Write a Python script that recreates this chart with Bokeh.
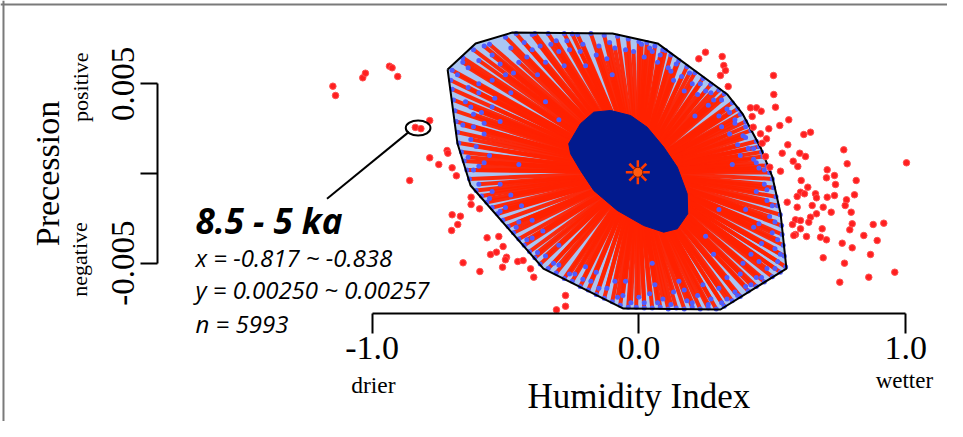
from bokeh.plotting import figure
from bokeh.models import (ColumnDataSource, LinearAxis, FixedTicker, Label,
                          Range1d, PrintfTickFormatter, Span)
from bokeh.embed import file_html
from bokeh.resources import INLINE

# ---------------- data ----------------
x_ticks = [-1.0, 0.0, 1.0]
y_ticks = [-0.005, 0.005]
y_minor_ticks = [0.0]

center_x = [-0.004]
center_y = [0.00007]

hull_x = [-0.717, -0.612, -0.474, -0.099, 0.070, 0.332, 0.388, 0.456, 0.501,
          0.531, 0.553, 0.306, -0.058, -0.358, -0.631, -0.680]
hull_y = [0.0058, 0.00725, 0.00786, 0.0078, 0.00725, 0.0044, 0.00334, 0.00145,
          -0.00022, -0.00223, -0.0053, -0.00758, -0.00753, -0.0053, -0.00067, 0.00167]

bag_x = [-0.263, -0.219, -0.169, -0.106, -0.031, 0.031, 0.093, 0.144, 0.181,
         0.183, 0.144, 0.093, 0.018, -0.081, -0.169, -0.219, -0.256]
bag_y = [0.00166, 0.00277, 0.00342, 0.00351, 0.00323, 0.00258, 0.00147, 0.00035,
         -0.00113, -0.00225, -0.00308, -0.00327, -0.0029, -0.00206, -0.00095,
         0.00017, 0.0011]

loop_x = [
    -0.70, -0.66, -0.62, -0.58, -0.68, -0.64, -0.55, -0.60, -0.66, -0.52, -0.47, -0.56,
    -0.50, -0.46, -0.43, -0.40, -0.37, -0.34, -0.31, -0.28, -0.26, -0.23, -0.21, -0.18,
    -0.16, -0.13, -0.11, -0.08, -0.42, -0.35, -0.30, -0.20, -0.12, -0.48, -0.39, -0.25,
    -0.04, 0.00, 0.03, 0.06, 0.09, 0.12, 0.15, 0.18, 0.21, 0.24, 0.27, 0.30, 0.32,
    0.02, 0.07, 0.11, 0.16, 0.20, 0.25, 0.28, -0.02, 0.05, 0.13, 0.22, 0.10,
    0.35, 0.37, 0.38, 0.40, 0.42, 0.44, 0.45, 0.465, 0.48, 0.49, 0.33, 0.36, 0.39, 0.41,
    0.43, 0.45, 0.30, 0.34, 0.38, 0.40, 0.46,
    0.50, 0.505, 0.514, 0.52, 0.53, 0.535, 0.537, 0.541, 0.545, 0.55, 0.47, 0.48, 0.49,
    0.50, 0.51, 0.52, 0.44, 0.45, 0.46, 0.40, 0.42,
    0.53, 0.50, 0.47, 0.44, 0.41, 0.38, 0.35, 0.32, 0.48, 0.44, 0.40, 0.36, 0.33, 0.45,
    0.38, 0.30,
    0.29, 0.26, 0.23, 0.20, 0.17, 0.14, 0.11, 0.08, 0.05, 0.02, -0.01, -0.04, 0.27, 0.22,
    0.18, 0.13, 0.09, 0.04, 0.00, 0.24, 0.15, 0.06,
    -0.07, -0.10, -0.13, -0.16, -0.19, -0.22, -0.25, -0.28, -0.31, -0.34, -0.06, -0.12,
    -0.18, -0.24, -0.30, -0.09, -0.20,
    -0.37, -0.39, -0.41, -0.43, -0.45, -0.47, -0.49, -0.51, -0.53, -0.55, -0.57, -0.59,
    -0.61, -0.35, -0.40, -0.45, -0.50, -0.55, -0.36, -0.44, -0.52,
    -0.635, -0.645, -0.655, -0.665, -0.675, -0.68, -0.685, -0.69, -0.695, -0.70, -0.705,
    -0.60, -0.61, -0.62, -0.63, -0.64, -0.56, -0.58, -0.59, -0.60, -0.52, -0.54,
    -0.35, -0.30, 0.25, 0.30, -0.45, 0.35, 0.05, -0.10,
    -0.60, -0.55, -0.50, -0.45, -0.40, -0.33, -0.27, -0.22, -0.15, -0.09, -0.05, -0.65,
    -0.62, -0.66, -0.58, -0.63, -0.55, -0.48, -0.38, -0.28,
    0.01, 0.04, 0.08, 0.14, 0.19, 0.23, 0.27, 0.31, 0.34, 0.36, 0.40, 0.43, 0.44, 0.47,
    0.26, 0.31, 0.17, 0.37, 0.12, 0.21,
    0.48, 0.50, 0.51, 0.52, 0.53, 0.51, 0.46, 0.42, 0.37, 0.31, 0.26, 0.20, 0.12, 0.07,
    0.02, 0.43, 0.39, 0.33, 0.17, 0.28,
    -0.03, -0.08, -0.15, -0.21, -0.26, -0.32, -0.38, -0.42, -0.46, -0.52, -0.56, -0.60,
    -0.62, -0.64, -0.58, -0.48, -0.40, -0.30, -0.16, -0.05,
]
loop_y = [
    0.00575, 0.0062, 0.0069, 0.0071, 0.0055, 0.0059, 0.0066, 0.0063, 0.00645, 0.0061, 0.0056, 0.0072,
    0.0076, 0.0078, 0.0073, 0.00775, 0.0071, 0.0078, 0.0074, 0.0078, 0.0069, 0.00775, 0.0072, 0.0078,
    0.0066, 0.0077, 0.0073, 0.00765, 0.0065, 0.0062, 0.0068, 0.0060, 0.0064, 0.0070, 0.0078, 0.00778,
    0.0075, 0.00735, 0.0073, 0.0071, 0.0069, 0.0066, 0.0063, 0.00595, 0.00562, 0.0053, 0.00498, 0.00465, 0.00445,
    0.0065, 0.0062, 0.0059, 0.0054, 0.0050, 0.0046, 0.0041, 0.0068, 0.0068, 0.0052, 0.0044, 0.00685,
    0.00395, 0.0036, 0.0033, 0.0029, 0.0024, 0.0018, 0.0015, 0.00095, 0.00045, 0.00005, 0.0036, 0.0028, 0.0021, 0.0014,
    0.0008, 0.0003, 0.0032, 0.0022, 0.0010, 0.0026, 0.0012,
    -0.0003, -0.0008, -0.0013, -0.0018, -0.0023, -0.0029, -0.0034, -0.0040, -0.0046, -0.0052, -0.0006, -0.0015, -0.0024,
    -0.0033, -0.0042, -0.0049, -0.0010, -0.0028, -0.0039, -0.0020, -0.0045,
    -0.0055, -0.00575, -0.00605, -0.0063, -0.00655, -0.00685, -0.0071, -0.0074, -0.0053, -0.0058, -0.0063, -0.0066, -0.0070, -0.0049,
    -0.0056, -0.0064,
    -0.00755, -0.0075, -0.00755, -0.00745, -0.00755, -0.0075, -0.00755, -0.00745, -0.0075, -0.0075, -0.00745, -0.00745, -0.0070, -0.0068,
    -0.0071, -0.0066, -0.0070, -0.0067, -0.0069, -0.0062, -0.0060, -0.0062,
    -0.00735, -0.00715, -0.00695, -0.00675, -0.0065, -0.0063, -0.0060, -0.00585, -0.00555, -0.0053, -0.0068, -0.0064,
    -0.0060, -0.0056, -0.0051, -0.0060, -0.0052,
    -0.00505, -0.0047, -0.00435, -0.0040, -0.00365, -0.0033, -0.00295, -0.0026, -0.00225, -0.0019, -0.0016, -0.00125,
    -0.00095, -0.0046, -0.0036, -0.0027, -0.0019, -0.0010, -0.0032, -0.0018, -0.0006,
    -0.0003, 0.0002, 0.0007, 0.0012, 0.0017, 0.0023, 0.0029, 0.0035, 0.0041, 0.0047, 0.0052,
    0.0004, 0.0015, 0.0026, 0.0037, 0.0048, 0.0010, 0.0022, 0.0034, 0.0045, 0.0029, 0.0042,
    0.0040, 0.0030, -0.0035, -0.0020, 0.0005, 0.0005, -0.0050, 0.0055,
    0.0050, 0.0052, 0.0055, 0.0062, 0.0069, 0.0072, 0.0074, 0.0068, 0.0071, 0.0070, 0.0069, 0.0040,
    0.0033, 0.0027, 0.0028, 0.0019, 0.0037, 0.0045, 0.0055, 0.0060,
    0.0072, 0.0070, 0.0066, 0.0061, 0.0056, 0.0050, 0.0045, 0.0041, 0.0034, 0.0030, 0.0020, 0.0014, 0.0006, 0.0002,
    0.0038, 0.0026, 0.0046, 0.0016, 0.0057, 0.0032,
    -0.0009, -0.0018, -0.0027, -0.0037, -0.0045, -0.0053, -0.0058, -0.0062, -0.0068, -0.0072, -0.0073, -0.0072, -0.0073, -0.0072,
    -0.0072, -0.0030, -0.0050, -0.0058, -0.0065, -0.0045,
    -0.0072, -0.0069, -0.0064, -0.0059, -0.0056, -0.0050, -0.0044, -0.0037, -0.0030, -0.0021, -0.0014, -0.0006,
    0.0002, 0.0009, 0.0006, -0.0012, -0.0026, -0.0040, -0.0055, -0.0060,
]

outlier_x = [
    -1.147, -1.137, -1.035, -1.025, -0.935, -0.925, -0.904, -0.838, -0.817, -0.784,
    -0.719, -0.716, -0.784, -0.750, -0.700, -0.684, -0.859,
    -0.629, -0.629, -0.597, -0.700, -0.669, -0.679, -0.702, -0.569, -0.525, -0.509,
    -0.556, -0.534, -0.496, -0.500, -0.659, -0.596, -0.511, -0.454, -0.434, -0.406,
    -0.394, -0.275, -0.275, -0.309,
    0.2245, 0.2496, 0.3122, 0.3182, 0.3246, 0.3058, 0.3347, 0.5045, 0.5056, 0.512,
    0.4183, 0.4408, 0.4584, 0.4247, 0.5618, 0.5281, 0.4869, 0.4284, 0.4558, 0.4783,
    0.4621, 0.6181, 0.6432, 0.5581, 0.768, 0.5371, 0.6031, 0.6244, 0.7807, 0.5783,
    0.5956, 0.4745, 0.4906, 0.5307, 0.7058, 0.7031, 0.7331, 0.8145, 0.7369, 0.6083,
    0.6331, 0.6057, 0.6207, 0.5933, 0.6619, 0.6657, 0.7058, 0.7331, 0.8081, 0.7781,
    0.7732, 0.5558, 0.5933, 0.6496, 0.6908, 0.7208, 0.7957, 0.6657, 0.6432, 0.587,
    0.6057, 0.5757, 0.6368, 0.7995, 0.7905, 0.8782, 0.9179, 0.687, 0.6057, 0.587,
    0.5806, 0.6282, 0.6807, 0.7031, 0.843, 0.8932, 0.762, 0.7995, 0.8681, 0.6908,
    0.7706, 0.9591, 0.8617, 0.753, 1.003,
]
outlier_y = [
    0.004866, 0.004348, 0.005334, 0.005591, 0.005981, 0.005892, 0.005407, 0.00257, 0.00250, 0.002954,
    0.001282, 0.00113, 0.000875, 0.000502, 0.000318, -0.000128, -0.00039,
    -0.001321, -0.001728, -0.001968, -0.002302, -0.00238, -0.002843, -0.003177, -0.003584, -0.003512, -0.004069,
    -0.004515, -0.004387, -0.004666, -0.00481, -0.004978, -0.005463, -0.005223, -0.004905, -0.00485, -0.005312,
    -0.00578, -0.0068, -0.0074, -0.0076,
    0.006394, 0.006761, 0.006522, 0.00602, 0.005741, 0.005463, 0.00485, 0.005463, 0.004404, 0.003696,
    0.003662, 0.003662, 0.003473, 0.003177, 0.002993, 0.002676, 0.002492, 0.002581, 0.002213, 0.001934,
    0.001689, 0.002174, 0.002302, 0.0016, 0.001321, 0.001132, 0.001132, 0.000948, 0.000541, 0.000686,
    0.00039, 0.000948, 0.000351, 0.000128, 0.000206, -0.00024, -0.000111, -0.00039, -0.000613, -0.00039,
    -0.000764, -0.001042, -0.001132, -0.001282, -0.001132, -0.001355, -0.001321, -0.001226, -0.001187, -0.001466,
    -0.001784, -0.0016, -0.001878, -0.001784, -0.001878, -0.002157, -0.002157, -0.002246, -0.002436, -0.002581,
    -0.00262, -0.002843, -0.002715, -0.002804, -0.003138, -0.002843, -0.00277, -0.003082, -0.003082, -0.0034,
    -0.003456, -0.003512, -0.003551, -0.003696, -0.003456, -0.003735, -0.003885, -0.004142, -0.004515, -0.004699,
    -0.005, -0.005502, -0.00578, -0.006059, 0.000596,
]

# highlighted cluster (8.5 - 5 ka)
sel_x_range = [-0.817, -0.838]
sel_y_range = [0.00250, 0.00257]
sel_n = 5993
period_label = "8.5 - 5 ka"

# ---------------- figure (frame fills the canvas) ----------------
SERIF = "Liberation Serif"
SANS = "Open Sans"

p = figure(width=947, height=421, output_backend="svg", toolbar_location=None,
           x_range=Range1d(-2.3928, 1.1567), y_range=Range1d(-0.013824, 0.009643),
           x_axis_location=None, y_axis_location=None, title=None,
           min_border=0)
p.grid.visible = False
p.outline_line_color = None
p.background_fill_color = "white"
p.border_fill_color = "white"

# picture border (top and left)
p.add_layout(Span(location=0.00942, dimension="width", line_color="#7a7a7a", line_width=2))
p.add_layout(Span(location=-2.3816, dimension="height", line_color="#7a7a7a", line_width=2))

# hull (loop) fill
p.patch(hull_x, hull_y, fill_color="#a9c5f3", line_color=None)

# rays from center to loop points
n_loop = len(loop_x)
rays = ColumnDataSource(dict(x0=center_x * n_loop, y0=center_y * n_loop,
                             x1=loop_x, y1=loop_y))
p.segment(x0="x0", y0="y0", x1="x1", y1="y1", source=rays,
          line_color="#ff2200", line_width=4.0, line_alpha=0.95)
p.scatter(loop_x, loop_y, size=5, marker="circle", fill_color="#4f5cff",
          line_color=None)

# hull outline
p.line(hull_x + hull_x[:1], hull_y + hull_y[:1], line_color="black", line_width=2)

# bag
p.patch(bag_x, bag_y, fill_color="#021a8e", line_color="#021a8e", line_width=1)

# center (median)
p.scatter(center_x, center_y, marker="asterisk", size=24, line_color="#ff3a00",
          line_width=2.5)
p.scatter(center_x, center_y, marker="circle", size=10, fill_color="#ff5a10",
          line_color="#7a1a00", line_width=1)

# outliers
p.scatter(outlier_x, outlier_y, marker="circle", size=6.5, fill_color="#ff1f1f",
          line_color="#ff5050", line_width=1)

# highlight ellipse + leader line
ex = [sum(sel_x_range) / 2]
ey = [sum(sel_y_range) / 2]
p.ellipse(x=ex, y=ey, width=[0.0926], height=[0.00084], fill_color=None,
          line_color="black", line_width=2)
p.segment(x0=[-1.169], y0=[-0.00141], x1=[-0.862], y1=[0.002319],
          line_color="black", line_width=2)

# ---------------- axes (fixed inside the frame) ----------------
yaxis = LinearAxis(ticker=FixedTicker(ticks=y_ticks, minor_ticks=y_minor_ticks),
                   bounds=(y_ticks[0], y_ticks[-1]), fixed_location=-1.8055,
                   formatter=PrintfTickFormatter(format="%.3f"))
yaxis.axis_label = "Precession"
yaxis.axis_label_text_font = SERIF
yaxis.axis_label_text_font_size = "34px"
yaxis.axis_label_text_font_style = "normal"
yaxis.axis_label_text_color = "black"
yaxis.axis_label_standoff = 44
yaxis.major_label_orientation = "vertical"
yaxis.major_label_text_font = SERIF
yaxis.major_label_text_font_size = "33px"
yaxis.major_label_text_color = "black"
yaxis.major_label_standoff = 6
yaxis.axis_line_width = 2
yaxis.axis_line_color = "black"
yaxis.major_tick_line_width = 2
yaxis.major_tick_line_color = "black"
yaxis.major_tick_out = 17
yaxis.major_tick_in = 0
yaxis.minor_tick_line_width = 2
yaxis.minor_tick_line_color = "black"
yaxis.minor_tick_out = 17
yaxis.minor_tick_in = 0
p.add_layout(yaxis, "left")

xaxis = LinearAxis(ticker=FixedTicker(ticks=x_ticks, minor_ticks=[]),
                   bounds=(x_ticks[0], x_ticks[-1]), fixed_location=-0.00782,
                   formatter=PrintfTickFormatter(format="%.1f"))
xaxis.axis_line_width = 2
xaxis.axis_line_color = "black"
xaxis.major_tick_line_width = 2
xaxis.major_tick_line_color = "black"
xaxis.major_tick_out = 20
xaxis.major_tick_in = 0
xaxis.minor_tick_out = 0
xaxis.minor_tick_in = 0
xaxis.major_label_text_font = SERIF
xaxis.major_label_text_font_size = "34px"
xaxis.major_label_text_color = "black"
xaxis.major_label_standoff = 3
p.add_layout(xaxis, "below")

# ---------------- labels ----------------
def add_label(x, y, text, font, size, style="normal", angle=0, align="left"):
    p.add_layout(Label(x=x, y=y, text=text, text_font=font, text_font_size=size,
                       text_font_style=style, angle=angle, angle_units="deg",
                       text_align=align, text_baseline="alphabetic",
                       text_color="black"))

add_label(0.0, -0.012419, "Humidity Index", SERIF, "35px", align="center")
add_label(-0.995, -0.011786, "drier", SERIF, "23.5px", align="center")
add_label(0.995, -0.01154, "wetter", SERIF, "23px", align="center")
add_label(-2.0922, 0.00481, "positive", SERIF, "22px", angle=90, align="center")
add_label(-2.0951, -0.00479, "negative", SERIF, "22px", angle=90, align="center")

tx = -1.662
add_label(tx, -0.00262, period_label, SANS, "35px", style="bold italic")
add_label(tx, -0.00471, f"x = {sel_x_range[0]:.3f} ~ {sel_x_range[1]:.3f}", SANS, "24px", style="italic")
add_label(tx, -0.006494, f"y = {sel_y_range[0]:.5f} ~ {sel_y_range[1]:.5f}", SANS, "24px", style="italic")
add_label(tx, -0.008334, f"n = {sel_n}", SANS, "24px", style="italic")

open("out.html", "w").write(file_html(p, INLINE))
